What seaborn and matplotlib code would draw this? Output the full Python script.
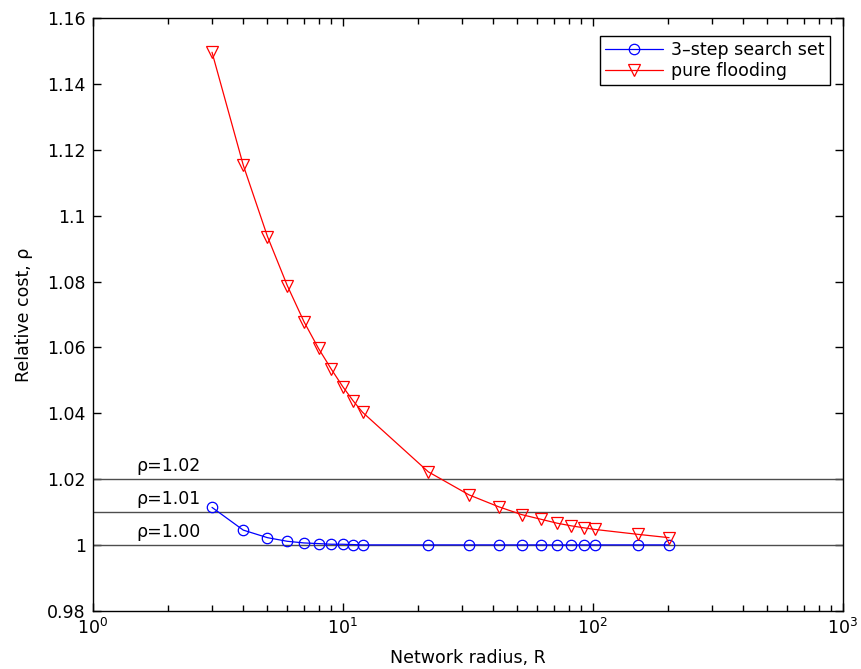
import matplotlib
matplotlib.use("Agg")
import matplotlib.pyplot as plt
import matplotlib.ticker as mticker
import seaborn as sns
import pandas as pd
import numpy as np

# ---- data ----
radius = [3, 4, 5, 6, 7, 8, 9, 10, 11, 12, 22, 32, 42, 52, 62, 72, 82, 92, 102, 152, 202]
search_set = [1.0114, 1.0045, 1.0022, 1.0011, 1.0006, 1.0004, 1.0002, 1.0002, 1.0001, 1.0000,
              1.0000, 1.0000, 1.0000, 1.0000, 1.0000, 1.0000, 1.0000, 1.0000, 1.0000, 1.0000, 1.0000]
flooding = [1.1497, 1.1154, 1.0937, 1.0788, 1.0678, 1.0597, 1.0534, 1.0481, 1.0438, 1.0403,
            1.0222, 1.0152, 1.0116, 1.0092, 1.0078, 1.0066, 1.0058, 1.0052, 1.0047, 1.0032, 1.0022]
ref_levels = [1.02, 1.01, 1.00]
ref_labels = ["ρ=1.02", "ρ=1.01", "ρ=1.00"]
series_names = ["3\u2013step search set", "pure flooding"]

df = pd.DataFrame({"R": radius, "search": search_set, "flood": flooding})

sns.set_style("ticks")
plt.rcParams["font.family"] = ["DejaVu Sans"]
plt.rcParams["mathtext.default"] = "regular"
for key in ["text.color", "axes.labelcolor", "xtick.color", "ytick.color", "axes.edgecolor"]:
    plt.rcParams[key] = "black"
plt.rcParams["xtick.direction"] = "in"
plt.rcParams["ytick.direction"] = "in"
plt.rcParams["xtick.minor.size"] = 4
plt.rcParams["xtick.minor.width"] = 1.0
plt.rcParams["xtick.top"] = True
plt.rcParams["ytick.right"] = True

FS = 12.5

fig = plt.figure(figsize=(8.61, 6.69), dpi=100)
ax = fig.add_axes([0.1077, 0.0871, 0.8711, 0.8855])

for lev in ref_levels:
    ax.axhline(lev, color="0.3", lw=1.0, zorder=1)

sns.lineplot(data=df, x="R", y="search", ax=ax, color="blue", lw=0.9, marker="o",
             markersize=7.5, markerfacecolor="none", markeredgecolor="blue", markeredgewidth=0.9,
             label=series_names[0], zorder=3)
sns.lineplot(data=df, x="R", y="flood", ax=ax, color="red", lw=0.9, marker="v",
             markersize=8.5, markerfacecolor="none", markeredgecolor="red", markeredgewidth=0.9,
             label=series_names[1], zorder=3)

for lev, lab in zip(ref_levels, ref_labels):
    ax.text(1.5, lev + 0.0012, lab, fontsize=FS, ha="left", va="bottom", color="black")

ax.set_xscale("log")
ax.set_xlim(1, 1000)
ax.set_ylim(0.98, 1.16)
ax.xaxis.set_major_locator(mticker.FixedLocator([1, 10, 100, 1000]))
ax.xaxis.set_major_formatter(mticker.LogFormatterSciNotation())
minor_pos = [m * d for d in (1, 10, 100) for m in range(2, 10)]
ax.xaxis.set_minor_locator(mticker.FixedLocator(minor_pos))
ax.xaxis.set_minor_formatter(mticker.NullFormatter())
ax.set_yticks(np.arange(0.98, 1.1601, 0.02))
ax.yaxis.set_major_formatter(mticker.FuncFormatter(lambda v, p: "%g" % round(v, 4)))
ax.yaxis.set_minor_locator(mticker.NullLocator())

ax.tick_params(which="major", top=True, right=True, bottom=True, left=True, direction="in",
               labelsize=FS, width=1.0, length=6, color="black", labelcolor="black", pad=5)
ax.tick_params(axis="x", which="minor", top=True, bottom=True, direction="in",
               width=1.0, length=4, color="black")
for s in ax.spines.values():
    s.set_linewidth(1.0)
    s.set_color("black")

ax.set_xlabel("Network radius, R", fontsize=FS, labelpad=8, color="black")
ax.set_ylabel("Relative cost, ρ", fontsize=FS, labelpad=10, color="black")

leg = ax.legend(loc="upper right", fontsize=FS, frameon=True, fancybox=False,
                edgecolor="black", framealpha=1, borderpad=0.3, handlelength=3.3,
                labelspacing=0.15, handletextpad=0.5, borderaxespad=0,
                bbox_to_anchor=(0.983, 0.970))
leg.get_frame().set_linewidth(1.0)
for t in leg.get_texts():
    t.set_color("black")

fig.savefig("out.png", dpi=100)
